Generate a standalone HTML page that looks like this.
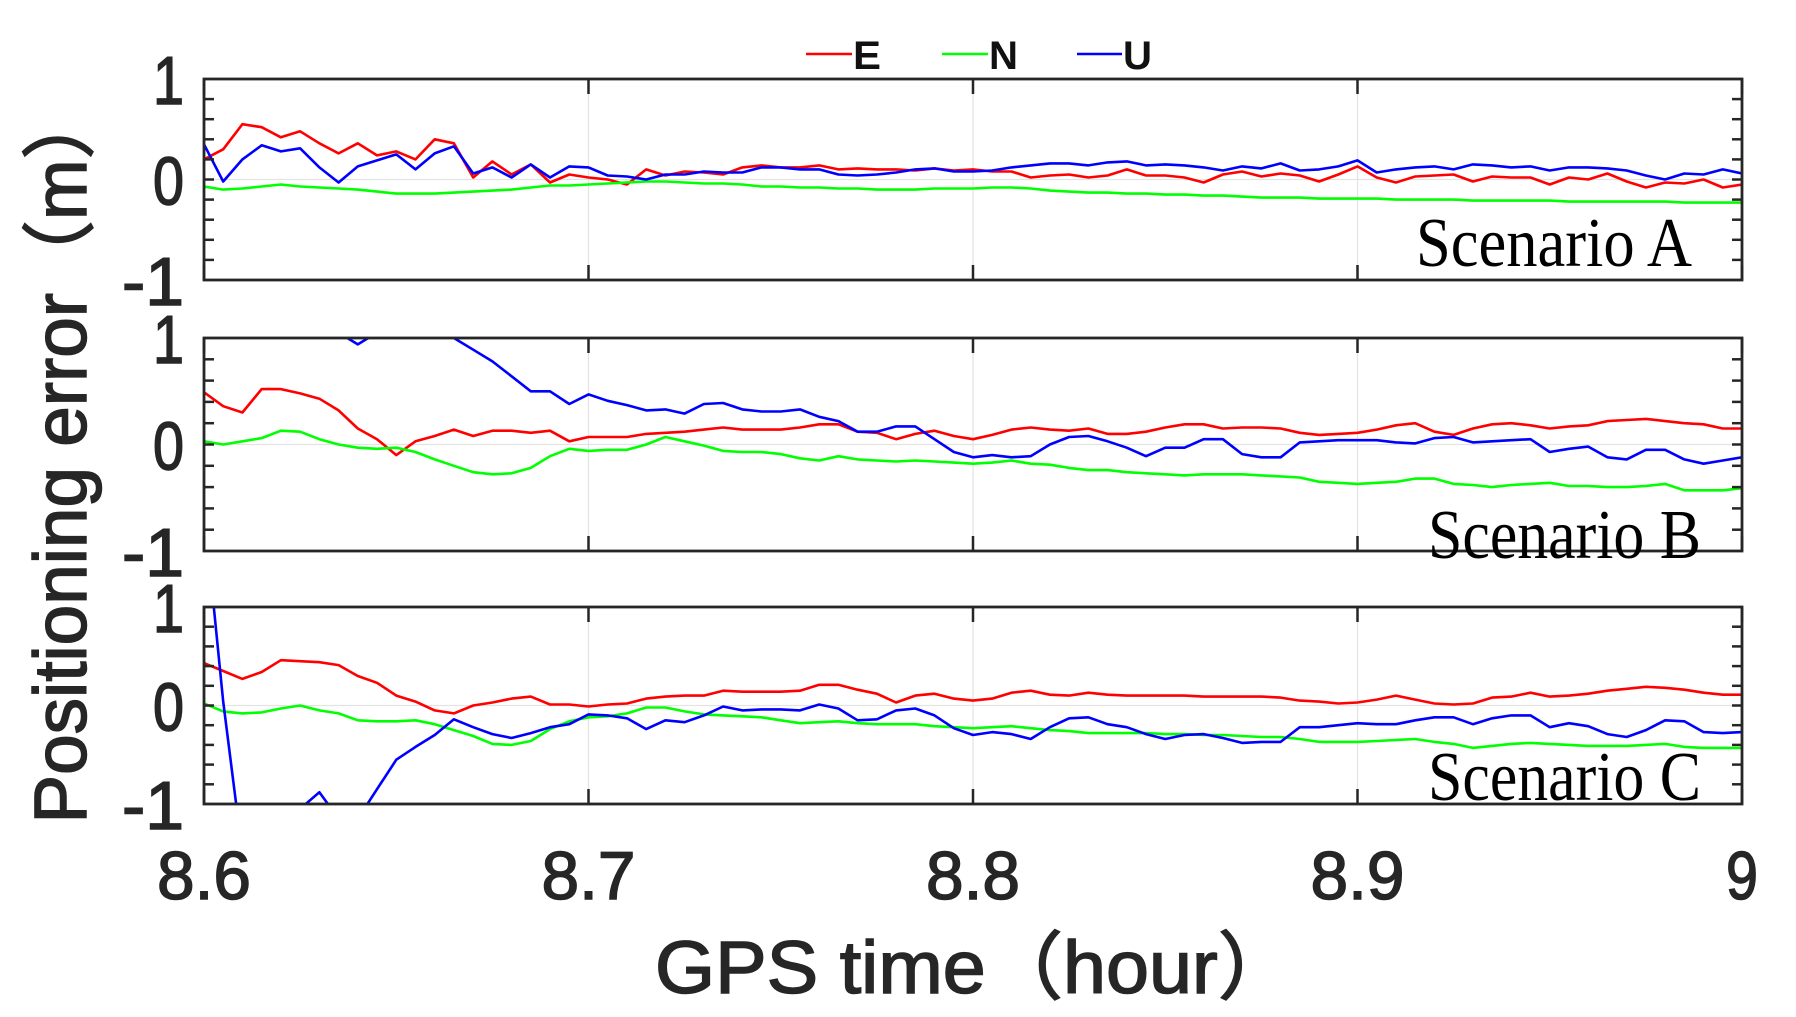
<!DOCTYPE html>
<html><head><meta charset="utf-8"><style>
html,body{margin:0;padding:0;background:#fff;}
svg{display:block;}
</style></head><body>
<svg id="chart" width="1796" height="1017" viewBox="0 0 1796 1017" xmlns="http://www.w3.org/2000/svg">
<rect width="1796" height="1017" fill="#fff"/>
<defs>
<clipPath id="clipA"><rect x="204" y="79" width="1538" height="201"/></clipPath>
<clipPath id="clipB"><rect x="204" y="338" width="1538" height="213"/></clipPath>
<clipPath id="clipC"><rect x="204" y="607" width="1538" height="197"/></clipPath>
</defs>
<g id="layer"></g>
<text transform="translate(86,455) rotate(-90)" text-anchor="middle" font-family="Liberation Sans, Noto Sans CJK SC, sans-serif" font-size="74" fill="#262626" stroke="#262626" stroke-width="1.5" textLength="737" lengthAdjust="spacingAndGlyphs">Positioning error（m）</text>
<text x="975" y="993" text-anchor="middle" font-family="Liberation Sans, Noto Sans CJK SC, sans-serif" font-size="74" fill="#262626" stroke="#262626" stroke-width="1.5" textLength="640" lengthAdjust="spacingAndGlyphs">GPS time（hour）</text>
<g font-family="Liberation Sans, sans-serif" font-size="40" font-weight="bold" fill="#111">
<line x1="806" y1="54" x2="852" y2="54" stroke="#ff0000" stroke-width="2.5"/>
<text x="853" y="69" textLength="28" lengthAdjust="spacingAndGlyphs">E</text>
<line x1="942" y1="54" x2="988" y2="54" stroke="#00ff00" stroke-width="2.5"/>
<text x="989" y="69" textLength="29" lengthAdjust="spacingAndGlyphs">N</text>
<line x1="1077" y1="54" x2="1122" y2="54" stroke="#0000ff" stroke-width="2.5"/>
<text x="1123" y="69" textLength="29" lengthAdjust="spacingAndGlyphs">U</text>
</g>
</svg>
<script>
const times = [8.600,8.605,8.610,8.615,8.620,8.625,8.630,8.635,8.640,8.645,8.650,8.655,8.660,8.665,8.670,8.675,8.680,8.685,8.690,8.695,8.700,8.705,8.710,8.715,8.720,8.725,8.730,8.735,8.740,8.745,8.750,8.755,8.760,8.765,8.770,8.775,8.780,8.785,8.790,8.795,8.800,8.805,8.810,8.815,8.820,8.825,8.830,8.835,8.840,8.845,8.850,8.855,8.860,8.865,8.870,8.875,8.880,8.885,8.890,8.895,8.900,8.905,8.910,8.915,8.920,8.925,8.930,8.935,8.940,8.945,8.950,8.955,8.960,8.965,8.970,8.975,8.980,8.985,8.990,8.995,9.000];
const xTicks = [8.6, 8.7, 8.8, 8.9, 9.0];
const xTickLabels = ["8.6","8.7","8.8","8.9","9"];
const yTicks = [-1, 0, 1];
const yTickLabels = ["-1","0","1"];
const scenarioLabels = ["Scenario A","Scenario B","Scenario C"];

const eA = [0.20,0.30,0.55,0.52,0.42,0.48,0.36,0.26,0.36,0.24,0.28,0.20,0.40,0.36,0.02,0.18,0.05,0.15,-0.03,0.05,0.02,0.00,-0.05,0.10,0.04,0.08,0.07,0.05,0.12,0.14,0.12,0.12,0.14,0.10,0.11,0.10,0.10,0.09,0.11,0.09,0.10,0.08,0.08,0.02,0.04,0.05,0.02,0.04,0.10,0.04,0.04,0.02,-0.03,0.05,0.08,0.03,0.06,0.04,-0.02,0.05,0.13,0.02,-0.03,0.03,0.04,0.05,-0.02,0.03,0.02,0.02,-0.05,0.02,0.00,0.06,-0.02,-0.08,-0.03,-0.04,0.00,-0.08,-0.05];
const nA = [-0.07,-0.10,-0.09,-0.07,-0.05,-0.07,-0.08,-0.09,-0.10,-0.12,-0.14,-0.14,-0.14,-0.13,-0.12,-0.11,-0.10,-0.08,-0.06,-0.06,-0.05,-0.04,-0.03,-0.02,-0.02,-0.03,-0.04,-0.04,-0.05,-0.07,-0.07,-0.08,-0.08,-0.09,-0.09,-0.10,-0.10,-0.10,-0.09,-0.09,-0.09,-0.08,-0.08,-0.09,-0.11,-0.12,-0.13,-0.13,-0.14,-0.14,-0.15,-0.15,-0.16,-0.16,-0.17,-0.18,-0.18,-0.18,-0.19,-0.19,-0.19,-0.19,-0.20,-0.20,-0.20,-0.20,-0.21,-0.21,-0.21,-0.21,-0.21,-0.22,-0.22,-0.22,-0.22,-0.22,-0.22,-0.23,-0.23,-0.23,-0.23];
const uA = [0.35,-0.02,0.20,0.34,0.28,0.31,0.12,-0.03,0.13,0.19,0.25,0.10,0.26,0.33,0.06,0.12,0.02,0.15,0.02,0.13,0.12,0.04,0.03,0.00,0.05,0.05,0.08,0.07,0.07,0.12,0.12,0.10,0.10,0.05,0.04,0.05,0.07,0.10,0.11,0.08,0.08,0.09,0.12,0.14,0.16,0.16,0.14,0.17,0.18,0.14,0.15,0.14,0.12,0.09,0.13,0.11,0.16,0.09,0.10,0.13,0.19,0.07,0.10,0.12,0.13,0.10,0.15,0.14,0.12,0.13,0.09,0.12,0.12,0.11,0.09,0.04,0.00,0.06,0.05,0.10,0.06];

const eB = [0.49,0.36,0.30,0.52,0.52,0.48,0.43,0.32,0.15,0.05,-0.10,0.03,0.08,0.14,0.08,0.13,0.13,0.11,0.13,0.03,0.07,0.07,0.07,0.10,0.11,0.12,0.14,0.16,0.14,0.14,0.14,0.16,0.19,0.19,0.12,0.11,0.05,0.10,0.13,0.08,0.05,0.09,0.14,0.16,0.14,0.13,0.15,0.10,0.10,0.12,0.16,0.19,0.19,0.15,0.16,0.16,0.15,0.11,0.09,0.10,0.11,0.14,0.18,0.20,0.12,0.09,0.15,0.19,0.20,0.18,0.15,0.17,0.18,0.22,0.23,0.24,0.22,0.20,0.19,0.15,0.15];
const nB = [0.03,0.00,0.03,0.06,0.13,0.12,0.05,0.00,-0.03,-0.04,-0.03,-0.07,-0.14,-0.20,-0.26,-0.28,-0.27,-0.22,-0.11,-0.04,-0.06,-0.05,-0.05,0.00,0.07,0.03,-0.01,-0.06,-0.07,-0.07,-0.09,-0.13,-0.15,-0.11,-0.14,-0.15,-0.16,-0.15,-0.16,-0.17,-0.18,-0.17,-0.15,-0.18,-0.19,-0.22,-0.24,-0.24,-0.26,-0.27,-0.28,-0.29,-0.28,-0.28,-0.28,-0.29,-0.30,-0.31,-0.35,-0.36,-0.37,-0.36,-0.35,-0.32,-0.32,-0.37,-0.38,-0.40,-0.38,-0.37,-0.36,-0.39,-0.39,-0.40,-0.40,-0.39,-0.37,-0.43,-0.43,-0.43,-0.41];
const uB = [1.40,1.40,1.35,1.30,1.25,1.20,1.15,1.05,0.94,1.05,1.10,1.10,1.08,1.00,0.89,0.78,0.64,0.50,0.50,0.38,0.47,0.41,0.37,0.32,0.33,0.29,0.38,0.39,0.33,0.31,0.31,0.33,0.26,0.22,0.12,0.12,0.17,0.17,0.05,-0.07,-0.12,-0.10,-0.12,-0.11,0.00,0.07,0.08,0.03,-0.03,-0.11,-0.03,-0.03,0.05,0.05,-0.09,-0.12,-0.12,0.02,0.03,0.04,0.04,0.04,0.02,0.01,0.06,0.07,0.02,0.03,0.04,0.05,-0.07,-0.04,-0.02,-0.12,-0.14,-0.05,-0.05,-0.14,-0.18,-0.15,-0.12];

const eC = [0.43,0.35,0.27,0.34,0.46,0.45,0.44,0.41,0.30,0.23,0.10,0.04,-0.05,-0.08,0.00,0.03,0.07,0.09,0.01,0.01,-0.01,0.01,0.02,0.07,0.09,0.10,0.10,0.15,0.14,0.14,0.14,0.15,0.21,0.21,0.16,0.12,0.03,0.10,0.12,0.07,0.05,0.07,0.13,0.15,0.11,0.10,0.13,0.11,0.10,0.10,0.10,0.10,0.09,0.09,0.09,0.09,0.08,0.05,0.04,0.02,0.03,0.06,0.10,0.06,0.02,0.01,0.02,0.08,0.09,0.13,0.09,0.10,0.12,0.15,0.17,0.19,0.18,0.16,0.13,0.11,0.11];
const nC = [0.02,-0.06,-0.08,-0.07,-0.03,0.00,-0.05,-0.08,-0.15,-0.16,-0.16,-0.15,-0.19,-0.25,-0.31,-0.39,-0.40,-0.36,-0.24,-0.16,-0.12,-0.11,-0.08,-0.02,-0.02,-0.06,-0.09,-0.10,-0.11,-0.12,-0.15,-0.18,-0.17,-0.16,-0.18,-0.19,-0.19,-0.19,-0.21,-0.22,-0.23,-0.22,-0.21,-0.23,-0.25,-0.26,-0.28,-0.28,-0.28,-0.28,-0.29,-0.29,-0.30,-0.30,-0.31,-0.32,-0.32,-0.34,-0.37,-0.37,-0.37,-0.36,-0.35,-0.34,-0.37,-0.39,-0.43,-0.41,-0.39,-0.38,-0.39,-0.40,-0.41,-0.41,-0.41,-0.40,-0.39,-0.42,-0.43,-0.43,-0.43];
const uC = [2.00,0.04,-1.50,-1.60,-1.40,-1.05,-0.88,-1.15,-1.15,-0.85,-0.55,-0.42,-0.30,-0.14,-0.22,-0.29,-0.33,-0.28,-0.22,-0.19,-0.09,-0.10,-0.13,-0.24,-0.15,-0.17,-0.10,-0.01,-0.05,-0.04,-0.04,-0.05,0.01,-0.03,-0.15,-0.14,-0.05,-0.03,-0.10,-0.23,-0.30,-0.27,-0.29,-0.34,-0.22,-0.13,-0.12,-0.19,-0.22,-0.29,-0.34,-0.30,-0.29,-0.33,-0.38,-0.37,-0.37,-0.22,-0.22,-0.20,-0.18,-0.19,-0.19,-0.15,-0.12,-0.12,-0.19,-0.13,-0.10,-0.10,-0.22,-0.18,-0.21,-0.29,-0.32,-0.25,-0.15,-0.16,-0.27,-0.28,-0.27];

const NS = "http://www.w3.org/2000/svg";
const layer = document.getElementById('layer');
const X0 = 204, X1 = 1742;
function xScale(t){ return X0 + (t - 8.6) / 0.4 * (X1 - X0); }
function mk(tag, attrs, parent){
  const el = document.createElementNS(NS, tag);
  for (const k in attrs) el.setAttribute(k, attrs[k]);
  (parent || layer).appendChild(el);
  return el;
}
const panels = [
  {key:'a', top:79, bottom:280, clip:'clipA', series:[eA,nA,uA], labelY:266},
  {key:'b', top:338, bottom:551, clip:'clipB', series:[eB,nB,uB], labelY:558},
  {key:'c', top:607, bottom:804, clip:'clipC', series:[eC,nC,uC], labelY:800}
];
const colors = ['#ff0000','#00ff00','#0000ff'];
const seriesNames = ['e','n','u'];

panels.forEach((p, pi) => {
  const yScale = v => p.bottom - (v + 1) / 2 * (p.bottom - p.top);
  const g = mk('g', {});
  
  
  xTicks.forEach((t, i) => {
    if (i === 0 || i === xTicks.length - 1) return;
    const gl = mk('line', {x1:xScale(t), x2:xScale(t), y1:p.top, y2:p.bottom, stroke:'#e3e3e3', 'stroke-width':1.2}, g);
    
    
  });
  const zl = mk('line', {x1:X0, x2:X1, y1:yScale(0), y2:yScale(0), stroke:'#e3e3e3', 'stroke-width':1.2}, g);
  
  
  const sg = mk('g', {'clip-path':'url(#' + p.clip + ')'}, g);
  p.series.forEach((vals, si) => {
    let d = '';
    vals.forEach((v, i) => { d += (i ? 'L' : 'M') + xScale(times[i]).toFixed(1) + ',' + yScale(v).toFixed(1); });
    const path = mk('path', {d:d, fill:'none', stroke:colors[si], 'stroke-width':2.6, 'stroke-linejoin':'round'}, sg);
    
    
  });
  for (let k = 1; k < 10; k++) {
    const v = -1 + k * 0.2;
    const y = yScale(v);
    const tl = mk('line', {x1:X0, x2:X0 + 10, y1:y, y2:y, stroke:'#262626', 'stroke-width':2.5}, g);
    
    
    const tr = mk('line', {x1:X1, x2:X1 - 10, y1:y, y2:y, stroke:'#262626', 'stroke-width':2.5}, g);
    
    
  }
  xTicks.forEach(t => {
    const tb = mk('line', {x1:xScale(t), x2:xScale(t), y1:p.bottom, y2:p.bottom - 15, stroke:'#262626', 'stroke-width':2.5}, g);
    
    
    const tt = mk('line', {x1:xScale(t), x2:xScale(t), y1:p.top, y2:p.top + 15, stroke:'#262626', 'stroke-width':2.5}, g);
    
    
  });
  const fr = mk('rect', {x:X0, y:p.top, width:X1 - X0, height:p.bottom - p.top, fill:'none', stroke:'#262626', 'stroke-width':2.8}, g);
  
  
  yTicks.forEach((v, i) => {
    const tx = mk('text', {x:184, y:yScale(v) + 25, 'text-anchor':'end', 'font-family':'Liberation Sans, sans-serif', 'font-size':68, fill:'#262626', stroke:'#262626', 'stroke-width':1.5, textLength: yTickLabels[i].length * 31, lengthAdjust:'spacingAndGlyphs'}, g);
    tx.textContent = yTickLabels[i];
    
    
  });
  const sl = mk('text', {x:1701 - (pi === 0 ? 9 : 0), y:p.labelY, 'text-anchor':'end', 'font-family':'Liberation Serif, serif', 'font-size':70, fill:'#000', textLength:(pi === 0 ? 276 : 273), lengthAdjust:'spacingAndGlyphs'}, g);
  sl.textContent = scenarioLabels[pi];
  
  
});
xTicks.forEach((t, i) => {
  const tx = mk('text', {x:xScale(t), y:899, 'text-anchor':'middle', 'font-family':'Liberation Sans, sans-serif', 'font-size':68, fill:'#262626', stroke:'#262626', 'stroke-width':1.5, textLength: xTickLabels[i].length === 1 ? 32 : 94, lengthAdjust:'spacingAndGlyphs'});
  tx.textContent = xTickLabels[i];
  
  
});
</script>
</body></html>
